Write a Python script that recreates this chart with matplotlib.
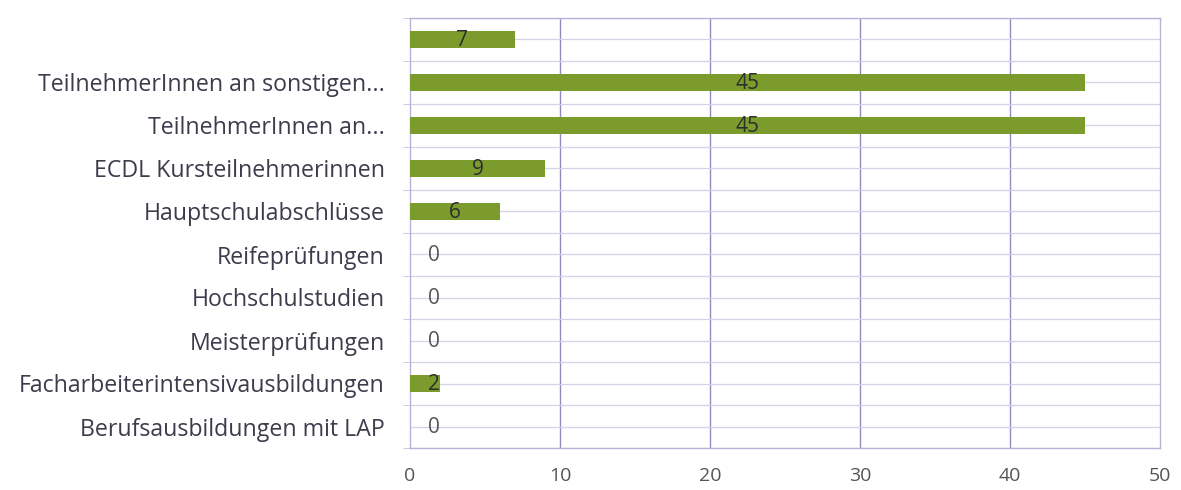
import matplotlib
matplotlib.use("Agg")
import matplotlib.pyplot as plt
import numpy as np

categories = ["Berufsausbildungen mit LAP", "Facharbeiterintensivausbildungen",
              "Meisterprüfungen", "Hochschulstudien", "Reifeprüfungen",
              "Hauptschulabschlüsse", "ECDL Kursteilnehmerinnen",
              "TeilnehmerInnen an...", "TeilnehmerInnen an sonstigen...", ""]
values = [0, 2, 0, 0, 0, 6, 9, 45, 45, 7]
xticks = [0, 10, 20, 30, 40, 50]

plt.rcParams['font.family'] = ['Open Sans', 'DejaVu Sans']
fig = plt.figure(figsize=(11.81, 4.90), dpi=100)
ax = fig.add_axes([410/1181, 1-448/490, 750/1181, 430/490])

y = np.arange(len(categories))
ax.barh(y, values, height=0.4, color="#7b9b2c", zorder=3)
for yi, v in zip(y, values):
    xpos = max(v / 2, 1.6)
    ax.text(xpos, yi - 0.03, str(v), ha="center", va="center", fontsize=15,
            color="#2e2e2e" if v > 0 else "#555555", zorder=4)

ax.set_xlim(0, 50)
ax.set_ylim(-0.5, len(categories) - 0.5)
ax.set_xticks(xticks)
ax.set_xticklabels([str(t) for t in xticks], fontsize=14, color="#555555")
ax.set_yticks(y)
ax.set_yticklabels(categories, fontsize=16.7, color="#3c3c4c")
ax.tick_params(axis="x", length=0, pad=14)
ax.tick_params(axis="y", length=0, pad=18)

for t in xticks[1:-1]:
    ax.axvline(t, color="#8e8ebe", lw=1.0, zorder=1)
for h in np.arange(-0.5, len(categories), 0.5):
    ax.axhline(h, color="#d2d2e8", lw=0.9, zorder=1)
ax.set_yticks(np.arange(-0.5, len(categories), 0.5), minor=True)
ax.tick_params(axis="y", which="minor", length=5, color="#c0c0dc", direction="out")

for s in ax.spines.values():
    s.set_color("#b4b4d6")
    s.set_linewidth(1.0)

fig.savefig("out.png", dpi=100, facecolor="white")
